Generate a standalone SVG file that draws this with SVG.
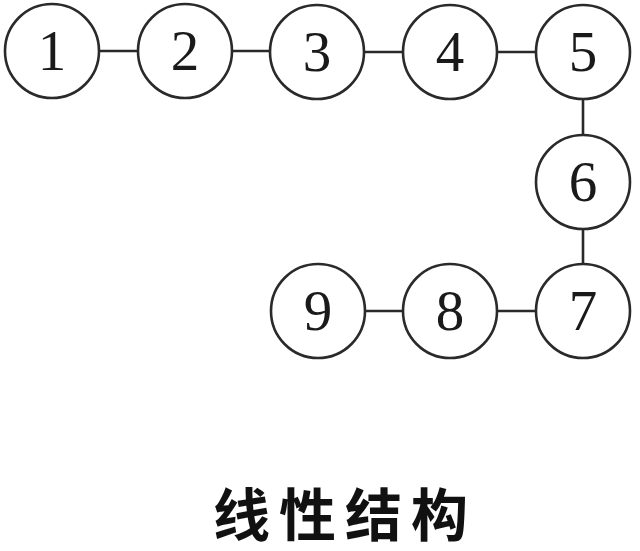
<svg xmlns="http://www.w3.org/2000/svg" width="640" height="551" viewBox="0 0 640 551">
<style>
.n circle{fill:#fff;stroke:#2a2a2a;stroke-width:2.6}
.n text{font-family:"Liberation Serif","DejaVu Serif",serif;font-size:57px;fill:#1a1a1a;text-anchor:middle}
.e line{stroke:#2a2a2a;stroke-width:2.6}
.t{font-family:"Noto Sans CJK SC","Noto Sans CJK JP",sans-serif;font-weight:bold;font-size:57px;letter-spacing:9px;fill:#111;text-anchor:middle}
</style>
<rect width="640" height="551" fill="#fff"/>
<g id="edges" class="e">
<line x1="99" y1="51" x2="138" y2="51"/>
<line x1="232" y1="51" x2="270" y2="51"/>
<line x1="364" y1="52" x2="403" y2="52"/>
<line x1="497" y1="52" x2="536" y2="52"/>
<line x1="583" y1="98" x2="583" y2="136"/>
<line x1="583" y1="229" x2="583" y2="265"/>
<line x1="497" y1="311" x2="536" y2="311"/>
<line x1="365" y1="311" x2="403" y2="311"/>
</g>
<g id="n1" class="n"><circle cx="52" cy="51" r="47"/><text x="52" y="70">1</text></g>
<g id="n2" class="n"><circle cx="185" cy="51" r="47"/><text x="185" y="70">2</text></g>
<g id="n3" class="n"><circle cx="317" cy="52" r="47"/><text x="317" y="71">3</text></g>
<g id="n4" class="n"><circle cx="450" cy="52" r="47"/><text x="450" y="71">4</text></g>
<g id="n5" class="n"><circle cx="583" cy="52" r="47"/><text x="583" y="71">5</text></g>
<g id="n6" class="n"><circle cx="583" cy="182" r="47"/><text x="583" y="201">6</text></g>
<g id="n7" class="n"><circle cx="583" cy="311" r="47"/><text x="583" y="330">7</text></g>
<g id="n8" class="n"><circle cx="450" cy="311" r="47"/><text x="450" y="330">8</text></g>
<g id="n9" class="n"><circle cx="318" cy="311" r="47"/><text x="318" y="330">9</text></g>
<text class="t" x="345" y="536">线性结构</text>
</svg>
